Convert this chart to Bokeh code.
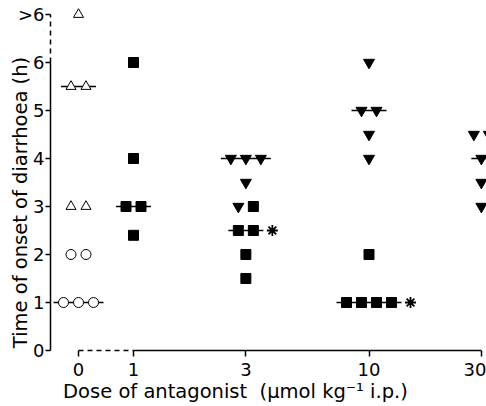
import math
from bokeh.plotting import figure
from bokeh.models import FixedTicker, Label, Range1d, ColumnDataSource
from bokeh.embed import file_html
from bokeh.resources import INLINE

# ---------------- data ----------------
dose_values = [0, 1, 3, 10, 30]
dose_tick_labels = ["0", "1", "3", "10", "30"]
time_ticks = [0, 1, 2, 3, 4, 5, 6, 7]
time_tick_labels = ["0", "1", "2", "3", "4", "5", "6", ">6"]   # 7 stands for ">6"

ctrl_open_triangle = [7, 5.5, 5.5, 3, 3]     # dose 0, open triangles
ctrl_open_circle = [2, 2, 1, 1, 1]           # dose 0, open circles
tri_dose3 = [4, 4, 4, 3.5, 3]                # filled inverted triangles
tri_dose10 = [6, 5, 5, 4.5, 4]
tri_dose30 = [4.5, 4.5, 4, 3.5, 3]
sq_dose1 = [6, 4, 3, 3, 2.4]                 # filled squares
sq_dose3 = [3, 2.5, 2.5, 2, 1.5]
sq_dose10 = [2, 1, 1, 1, 1]
significant = ["sq_dose3", "sq_dose10"]       # marked with an asterisk

x_title = "Dose of antagonist\u00a0\u00a0(\u03bcmol kg\u207b\u00b9 i.p.)"
y_title = "Time of onset of diarrhoea (h)"

# ---------------- layout constants ----------------
W, H = 486, 406
PX_DEC = 235.5        # px per decade on the dose axis
PX_H = 48.0           # px per hour
SLOT = 15.0           # px between side-by-side points
ZERO_POS = -55.0 / PX_DEC   # where dose "0" sits (left of 1 on log axis)
X1_PX = 133.0         # px position of dose 1
Y0_PX = 350.0         # px position of time 0
YAXIS_PX = 50.0       # px position of the y axis line
FONT = "DejaVu Sans"

def dose_pos(d):
    return ZERO_POS if d == 0 else math.log10(d)

x_start = (0 - X1_PX) / PX_DEC
x_end = (W - X1_PX) / PX_DEC
y_start = (Y0_PX - H) / PX_H
y_end = (Y0_PX - 0) / PX_H

styles = {
    "open_triangle": dict(marker="triangle", size=10, fill_color="white", line_color="black", line_width=1),
    "open_circle": dict(marker="circle", size=10, fill_color="white", line_color="black", line_width=1),
    "tri": dict(marker="inverted_triangle", size=11, fill_color="black", line_color="black", line_width=1),
    "sq": dict(marker="square", size=10, fill_color="black", line_color="black", line_width=1),
}

groups = [
    ("ctrl_open_triangle", 0, ctrl_open_triangle, "open_triangle"),
    ("ctrl_open_circle", 0, ctrl_open_circle, "open_circle"),
    ("tri_dose3", 3, tri_dose3, "tri"),
    ("tri_dose10", 10, tri_dose10, "tri"),
    ("tri_dose30", 30, tri_dose30, "tri"),
    ("sq_dose1", 1, sq_dose1, "sq"),
    ("sq_dose3", 3, sq_dose3, "sq"),
    ("sq_dose10", 10, sq_dose10, "sq"),
]

rows = {}
for gi, (name, d, vals, st) in enumerate(groups):
    for v in vals:
        rows.setdefault((d, v), []).append(gi)
order = {"open_triangle": 0, "open_circle": 1, "tri": 2, "sq": 3}
for k in rows:
    rows[k].sort(key=lambda gi: order[groups[gi][3]])

pts = {st: dict(x=[], y=[]) for st in styles}
for (d, v), members in rows.items():
    n = len(members)
    for i, gi in enumerate(members):
        off = (i - (n - 1) / 2.0) * SLOT
        st = groups[gi][3]
        pts[st]["x"].append(dose_pos(d) + off / PX_DEC)
        pts[st]["y"].append(v)

p = figure(width=W, height=H, output_backend="svg", toolbar_location=None,
           x_range=Range1d(x_start, x_end), y_range=Range1d(y_start, y_end),
           min_border_left=0, min_border_right=0, min_border_top=0, min_border_bottom=0)
p.grid.visible = False
p.outline_line_color = None
p.background_fill_color = "white"
p.border_fill_color = "white"

yaxis_x = (YAXIS_PX - X1_PX) / PX_DEC
tick_x = [dose_pos(d) for d in dose_values]
p.xaxis.ticker = FixedTicker(ticks=tick_x)
p.xaxis.major_label_overrides = {float(t): l for t, l in zip(tick_x, dose_tick_labels)}
p.xaxis.fixed_location = 0
p.yaxis.ticker = FixedTicker(ticks=time_ticks)
p.yaxis.major_label_overrides = {t: l for t, l in zip(time_ticks, time_tick_labels)}
p.yaxis.fixed_location = yaxis_x
for ax in (p.xaxis, p.yaxis):
    ax.axis_line_color = None
    ax.minor_tick_line_color = None
    ax.major_tick_line_color = "black"
    ax.major_tick_line_width = 1.5
    ax.major_tick_in = 0
    ax.major_label_text_font = FONT
    ax.major_label_text_font_size = "18px"
    ax.major_label_text_color = "black"
p.yaxis.major_tick_out = 5
p.yaxis.major_label_standoff = 1
p.xaxis.major_tick_out = 6
p.xaxis.major_label_standoff = 6

# axis lines: dashed between "0" and "1" / between "6" and ">6"
p.line([tick_x[0], tick_x[1]], [0, 0], line_color="black", line_width=1.5, line_dash="5 4")
p.line([tick_x[1], tick_x[-1]], [0, 0], line_color="black", line_width=1.5)
p.line([yaxis_x, yaxis_x], [time_ticks[0], time_ticks[-2]], line_color="black", line_width=1.5)
p.line([yaxis_x, yaxis_x], [time_ticks[-2], time_ticks[-1]], line_color="black", line_width=1.5, line_dash="5 4")

def median(vals):
    s = sorted(vals)
    n = len(s)
    return s[n // 2] if n % 2 else (s[n // 2 - 1] + s[n // 2]) / 2.0

mx0, mx1, my, ax_, ay_ = [], [], [], [], []
for name, d, vals, st in groups:
    m = median(vals)
    n = len(rows.get((d, m), [0]))
    half = ((n - 1) / 2.0 * SLOT + 10) / PX_DEC
    c = dose_pos(d)
    mx0.append(c - half); mx1.append(c + half); my.append(m)
    if name in significant:
        ax_.append(c + half + 9 / PX_DEC); ay_.append(m)
p.segment(x0=mx0, y0=my, x1=mx1, y1=my, line_color="black", line_width=1.5)
p.scatter(ax_, ay_, marker="asterisk", size=11, line_color="black", line_width=1.8)

for st, kw in styles.items():
    src = ColumnDataSource(pts[st])
    p.scatter("x", "y", source=src, **kw)

# axis titles (screen units measured from the frame's bottom-left corner)
p.add_layout(Label(x=20, y=H - 202, x_units="screen", y_units="screen", text=y_title, angle=math.pi / 2,
                   text_align="center", text_baseline="middle", text_font=FONT,
                   text_font_size="19.5px", text_color="black"))
p.add_layout(Label(x=235, y=H - 391, x_units="screen", y_units="screen", text=x_title,
                   text_align="center", text_baseline="middle", text_font=FONT,
                   text_font_size="19.5px", text_color="black"))

open("out.html", "w").write(file_html(p, INLINE))
